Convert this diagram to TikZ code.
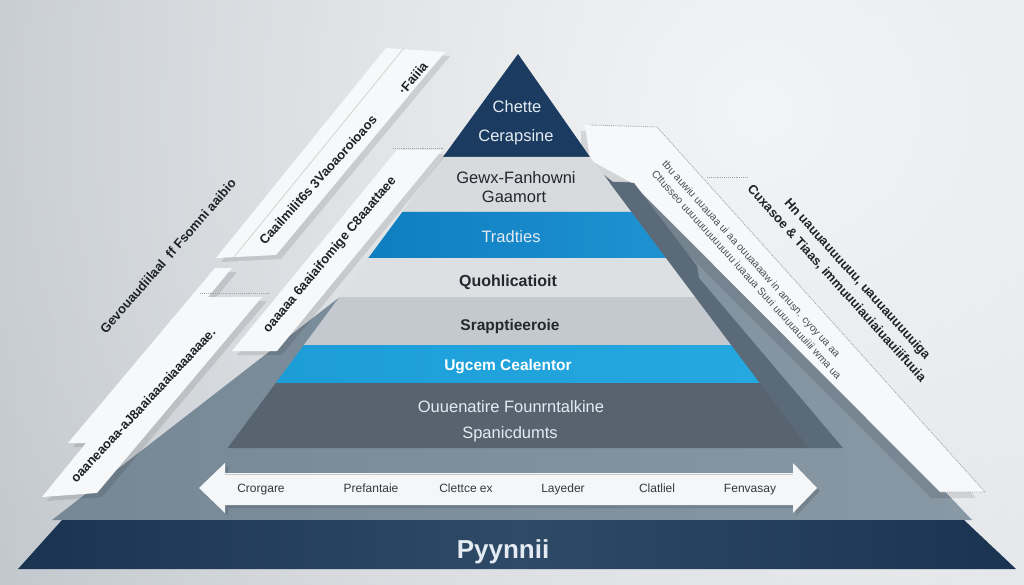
\documentclass[tikz,border=0pt]{standalone}
\usepackage{fontspec}
\setmainfont{Liberation Sans}
\usetikzlibrary{fadings}
\definecolor{bgL}{HTML}{B4BBC2}
\definecolor{bgR}{HTML}{D6DADE}
\definecolor{glowc}{HTML}{F3F4F5}
\definecolor{grayL}{HTML}{768795}
\definecolor{grayR}{HTML}{8898A5}
\definecolor{darkslate}{HTML}{5A6A78}
\definecolor{navy}{HTML}{1B3B60}
\definecolor{bandtwo}{HTML}{D8DBDE}
\definecolor{bluedL}{HTML}{0E7EC0}
\definecolor{bluedR}{HTML}{1E92D2}
\definecolor{bandfour}{HTML}{DDE0E3}
\definecolor{bandfive}{HTML}{C3C9CF}
\definecolor{bluelL}{HTML}{1C9DD8}
\definecolor{bluelR}{HTML}{25A8E0}
\definecolor{bandseven}{HTML}{57646F}
\definecolor{botE}{HTML}{1A3350}
\definecolor{botC}{HTML}{2E4A67}
\definecolor{stripwhite}{HTML}{F7F8F9}
\definecolor{ink}{HTML}{1E2328}
\definecolor{lighttext}{HTML}{E4EBF2}
\definecolor{darktext}{HTML}{23282E}
\definecolor{arrowfill}{HTML}{F5F6F7}
\definecolor{arrowink}{HTML}{33383E}
\tikzfading[name=glowfade, inner color=transparent!0, outer color=transparent!100]
\begin{document}
\begin{tikzpicture}[x=1pt,y=-1pt,
  lbl/.style={inner sep=0pt, anchor=base, font=\fontsize{16.5}{19}\selectfont},
  gib/.style={inner sep=0pt, font=\bfseries\fontsize{13}{15}\selectfont, text=ink},
  tinytext/.style={inner sep=0pt, font=\fontsize{10.5}{14}\selectfont, text=ink!80, align=left},
  strip/.style={fill=stripwhite},
  shadowfill/.style={fill=black, fill opacity=0.10},
  dotline/.style={draw=gray!70, densely dotted, line width=0.9pt},
  arrlbl/.style={inner sep=0pt, anchor=base, font=\fontsize{12}{14}\selectfont, text=arrowink}
]
\useasboundingbox (0,0) rectangle (1024,585);
% background
\shade[left color=bgL, right color=bgR] (0,0) rectangle (1024,585);
\begin{scope}
  \clip (0,0) rectangle (1024,585);
  \fill[glowc, path fading=glowfade] (760,110) circle (1150);
\end{scope}

% large grey pyramid behind
\shade[left color=grayL, right color=grayR] (52,520) -- (403,248) -- (612,182) -- (650,182) -- (972,520) -- cycle;

% right strip (shadow, strip, dotted edge)
\fill[shadowfill] (581,131) -- (648,133) -- (976,498) -- (931,498) -- (623,189) -- (581,166) -- cycle;
\fill[strip] (585,125) -- (657,127) -- (985,492) -- (940,492) -- (632,183) -- (590,160) -- cycle;
\draw[dotline] (590,125) -- (657,127) -- (985,492) -- (940,492);
\draw[dotline] (707,177) -- (747,177);
\node[tinytext, rotate=-48] (rs) at (752,270) {tbu auwiu uuauaa ui aa ouuaaaaw in anusn. cyoy ua aa\\Cttusseo uuuuuuuuuuuuu iuaaua Suui uuuuuauuiiii wma ua};
% right free text
\node[gib, rotate=-48, align=left, anchor=south west, font=\bfseries\fontsize{13}{18.5}\selectfont] (rf) at (745,191) {\hspace*{35pt}Hn uauuauuuuuu, uauuauuuuuiga\\Cuxasoe \& Tiaas, immuuuiauiaiuauiiifuuia};

% dark shadow right of the bands
\fill[darkslate] (604,175) -- (613,182) -- (634,183) -- (697,266) -- (699,278) -- (843,448) -- (805,448) -- cycle;

% pyramid bands
\fill[navy] (518,54) -- (590,157) -- (443,157) -- cycle;
\fill[bandtwo] (443,157) -- (590,157) -- (631.3,212) -- (402.3,212) -- cycle;
\shade[left color=bluedL, right color=bluedR] (402.3,212) -- (631.3,212) -- (665.8,258) -- (368.3,258) -- cycle;
\fill[bandfour] (368.3,258) -- (665.8,258) -- (695,297) -- (339.4,297) -- cycle;
\fill[bandfive] (339.4,297) -- (695,297) -- (731,345) -- (303.9,345) -- cycle;
\shade[left color=bluelL, right color=bluelR] (303.9,345) -- (731,345) -- (759.5,383) -- (275.8,383) -- cycle;
\fill[bandseven] (275.8,383) -- (759.5,383) -- (808.3,448) -- (227.7,448) -- cycle;

\node[lbl, text=lighttext] (t1a) at (517,112.5) {Chette};
\node[lbl, text=lighttext] (t1b) at (516,141.5) {Cerapsine};
\node[lbl, text=darktext] (t2a) at (516,184) {Gewx-Fanhowni};
\node[lbl, text=darktext] (t2b) at (514,202.5) {Gaamort};
\node[lbl, text=lighttext] (t3) at (511,242.5) {Tradties};
\node[lbl, text=darktext, font=\bfseries\fontsize{16}{19}\selectfont] (t4) at (508,286) {Quohlicatioit};
\node[lbl, text=darktext, font=\bfseries\fontsize{15.5}{19}\selectfont] (t5) at (510,330.5) {Srapptieeroie};
\node[lbl, text=white, font=\bfseries\fontsize{15.5}{19}\selectfont] (t6) at (508,370.5) {Ugcem Cealentor};
\node[lbl, text=lighttext] (t7a) at (511,412.5) {Ouuenatire Founrntalkine};
\node[lbl, text=lighttext] (t7b) at (510,438) {Spanicdumts};

% left strips
\fill[shadowfill] (391,52) -- (450,56) -- (281,259) -- (221,262) -- cycle;
\fill[strip] (386,48) -- (445,52) -- (276,255) -- (216,258) -- cycle;
\draw[gray!35, line width=0.8pt] (404,48) -- (234,257);
\fill[shadowfill] (402,154) -- (447,154) -- (282,355) -- (237,355) -- cycle;
\fill[strip] (397,150) -- (442,150) -- (277,351) -- (232,351) -- cycle;
\draw[dotline] (393,148) -- (443,148);
\fill[shadowfill] (220,272) -- (237,272) -- (92,447) -- (73,447) -- cycle;
\fill[strip] (215,268) -- (232,268) -- (87,443) -- (68,443) -- cycle;
\fill[shadowfill] (210,301) -- (267,301) -- (102,497) -- (47,501) -- cycle;
\fill[strip] (205,297) -- (262,297) -- (97,493) -- (42,497) -- cycle;
\draw[dotline] (200,293) -- (270,293);

\node[gib, rotate=49] (g1) at (168,256) {Gevouaudiilaal \ ff Fsomni aaibio};
\node[gib, rotate=48] (g2) at (318,180) {Caailmilit6s 3Vaoaoroioaos};
\node[gib, rotate=50] (g3) at (413,78) {·Faiiia};
\node[gib, rotate=50] (g4) at (330,255) {oaaaaa 6aaiaifomige C8aaattaee};
\node[gib, rotate=47] (g5) at (143,405) {oaaneaoaa-aJ8aaiaaaaiaaaaaaae.};

% double arrow
\fill[black, fill opacity=0.12] (202,491) -- (228,466) -- (228,476) -- (796,476) -- (796,466) -- (820,491) -- (796,516) -- (796,508) -- (228,508) -- (228,516) -- cycle;
\fill[arrowfill] (199,488) -- (225,463) -- (225,473) -- (793,473) -- (793,463) -- (817,488) -- (793,513) -- (793,505) -- (225,505) -- (225,513) -- cycle;
\draw[gray!45, line width=1pt] (225,474) -- (793,474);
\node[arrlbl] (a1) at (261,492.5) {Crorgare};
\node[arrlbl] (a2) at (371,492.5) {Prefantaie};
\node[arrlbl] (a3) at (466,492.5) {Clettce ex};
\node[arrlbl] (a4) at (563,492.5) {Layeder};
\node[arrlbl] (a5) at (657,492.5) {Clatliel};
\node[arrlbl] (a6) at (750,492.5) {Fenvasay};

% bottom band
\shade[left color=botE, right color=botE, middle color=botC] (62,520) -- (964,520) -- (1016,569) -- (18,569) -- cycle;
\node[lbl, text=lighttext, font=\bfseries\fontsize{26}{30}\selectfont] (base) at (503,558) {Pyynnii};
\end{tikzpicture}
\end{document}
